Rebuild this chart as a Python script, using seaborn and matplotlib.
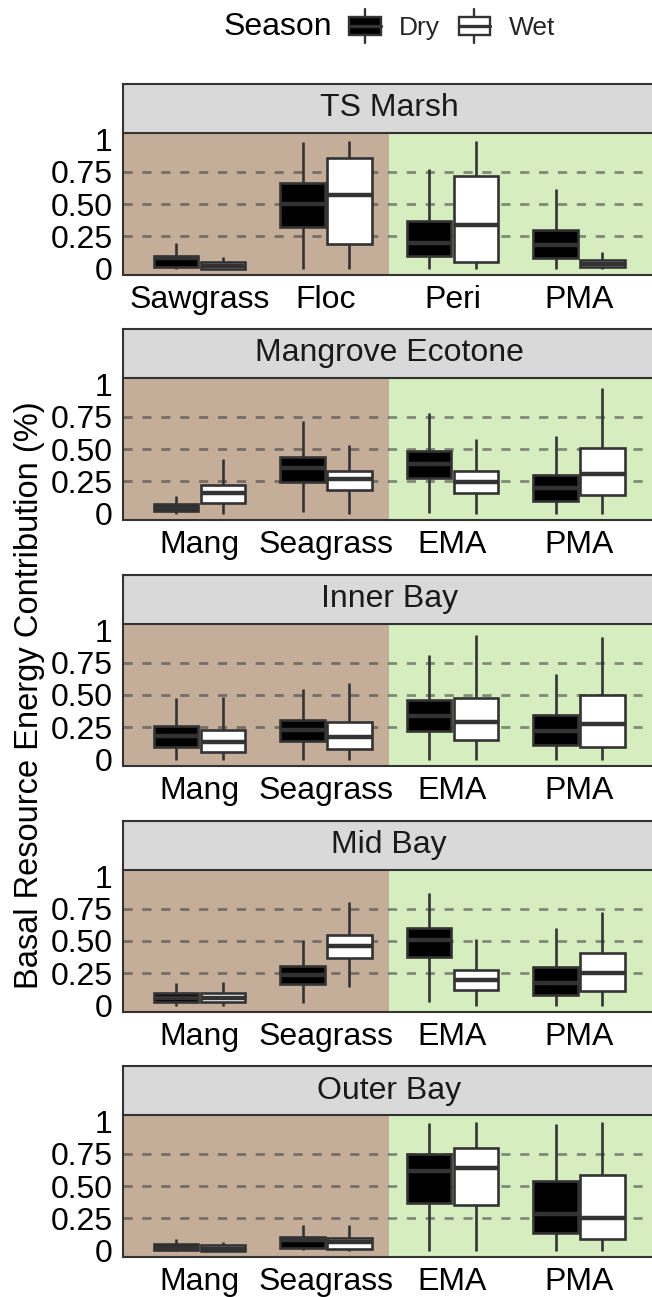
import numpy as np
import pandas as pd
import matplotlib
matplotlib.use("Agg")
import matplotlib.pyplot as plt
from matplotlib.patches import Rectangle
from matplotlib.lines import Line2D
from matplotlib.legend_handler import HandlerBase
import seaborn as sns

sns.set_theme(style="white")
plt.rcParams["font.family"] = ["Liberation Sans", "DejaVu Sans"]

ZONES = ["TS Marsh", "Mangrove Ecotone", "Inner Bay", "Mid Bay", "Outer Bay"]
MARSH_SOURCES = ["Sawgrass", "Floc", "Peri", "PMA"]
BAY_SOURCES = ["Mang", "Seagrass", "EMA", "PMA"]
SEASONS = ["Dry", "Wet"]
Y_TICKS = [0, 0.25, 0.5, 0.75, 1]
Y_TICK_LABELS = ["0", "0.25", "0.50", "0.75", "1"]

# Five-number summaries per source: (whisker low, Q1, median, Q3, whisker high)
ts_marsh_dry = [(0.00, 0.013, 0.078, 0.098, 0.20), (0.00, 0.32, 0.50, 0.66, 0.98),
                (0.00, 0.098, 0.20, 0.368, 0.77), (0.00, 0.078, 0.18, 0.30, 0.62)]
ts_marsh_wet = [(0.00, 0.00, 0.02, 0.05, 0.093), (0.00, 0.187, 0.57, 0.857, 0.99),
                (0.00, 0.054, 0.337, 0.72, 0.99), (0.00, 0.013, 0.036, 0.07, 0.13)]
mangrove_dry = [(0.00, 0.016, 0.044, 0.075, 0.134), (0.01, 0.245, 0.35, 0.44, 0.72),
                (0.005, 0.274, 0.385, 0.488, 0.78), (0.00, 0.096, 0.20, 0.30, 0.60)]
mangrove_wet = [(0.00, 0.083, 0.163, 0.225, 0.426), (0.00, 0.18, 0.264, 0.33, 0.53),
                (0.00, 0.16, 0.245, 0.33, 0.574), (0.00, 0.142, 0.31, 0.504, 0.97)]
inner_bay_dry = [(0.00, 0.10, 0.186, 0.258, 0.48), (0.00, 0.142, 0.227, 0.307, 0.546),
                 (0.00, 0.219, 0.34, 0.459, 0.807), (0.00, 0.113, 0.222, 0.343, 0.665)]
inner_bay_wet = [(0.00, 0.057, 0.139, 0.23, 0.487), (0.00, 0.082, 0.178, 0.289, 0.595),
                 (0.00, 0.155, 0.29, 0.48, 0.964), (0.00, 0.098, 0.276, 0.497, 0.948)]
mid_bay_dry = [(0.00, 0.031, 0.062, 0.096, 0.176), (0.02, 0.166, 0.24, 0.308, 0.508),
               (0.03, 0.376, 0.505, 0.604, 0.868), (0.00, 0.078, 0.176, 0.295, 0.60)]
mid_bay_wet = [(0.00, 0.031, 0.057, 0.10, 0.179), (0.145, 0.365, 0.458, 0.544, 0.80),
               (0.00, 0.117, 0.20, 0.277, 0.513), (0.00, 0.109, 0.254, 0.41, 0.723)]
outer_bay_dry = [(0.00, 0.005, 0.02, 0.05, 0.088), (0.008, 0.02, 0.08, 0.103, 0.196),
                 (0.00, 0.371, 0.613, 0.75, 0.985), (0.00, 0.137, 0.284, 0.539, 0.98)]
outer_bay_wet = [(0.00, 0.00, 0.015, 0.04, 0.07), (0.00, 0.01, 0.07, 0.095, 0.196),
                 (0.00, 0.356, 0.64, 0.794, 0.995), (0.00, 0.093, 0.255, 0.585, 0.995)]

zone_sources = [MARSH_SOURCES, BAY_SOURCES, BAY_SOURCES, BAY_SOURCES, BAY_SOURCES]
zone_summaries = [
    (ts_marsh_dry, ts_marsh_wet),
    (mangrove_dry, mangrove_wet),
    (inner_bay_dry, inner_bay_wet),
    (mid_bay_dry, mid_bay_wet),
    (outer_bay_dry, outer_bay_wet),
]

rows = []
for zone, sources, (dry, wet) in zip(ZONES, zone_sources, zone_summaries):
    for season, summaries in zip(SEASONS, (dry, wet)):
        for source, summary in zip(sources, summaries):
            for v in summary:
                rows.append({"Zone": zone, "Source": source, "Season": season, "Value": v})
df = pd.DataFrame(rows)

EDGE = "#333333"
BROWN = "#C4AD99"
GREEN = "#D5EDBF"
STRIP = "#D9D9D9"
FS = 23

W, H = 652, 1297
fig = plt.figure(figsize=(W / 100, H / 100), dpi=100)

left_px, right_px = 123.5, 655.0
panel_tops = [133, 378, 624, 870, 1115]
panel_h = 142
strip_h = 49

for zone, sources, top in zip(ZONES, zone_sources, panel_tops):
    ax = fig.add_axes([left_px / W, 1 - (top + panel_h) / H,
                       (right_px - left_px) / W, panel_h / H])
    ax.set_facecolor("none")
    ax.axvspan(-0.6, 1.5, color=BROWN, zorder=0, lw=0)
    ax.axvspan(1.5, 3.6, color=GREEN, zorder=0, lw=0)
    for yv in (0.25, 0.5, 0.75):
        ax.axhline(yv, color="#3a3a3a", alpha=0.55, lw=2.0,
                   dashes=(3.3, 3.5), zorder=1)

    sub = df[df["Zone"] == zone]
    sns.boxplot(data=sub, x="Source", y="Value", hue="Season",
                order=sources, hue_order=SEASONS,
                palette={"Dry": "black", "Wet": "white"}, saturation=1,
                whis=(0, 100), showcaps=False, width=0.74, gap=0.05,
                linecolor=EDGE, linewidth=1.9,
                medianprops=dict(color=EDGE, linewidth=3.2),
                legend=False, ax=ax, zorder=2)

    ax.set_xlim(-0.6, 3.6)
    ax.set_ylim(-0.05, 1.05)
    ax.set_yticks(Y_TICKS)
    ax.set_yticklabels(Y_TICK_LABELS)
    ax.set_xlabel("")
    ax.set_ylabel("")
    ax.grid(False)
    for side in ("top", "right"):
        ax.spines[side].set_visible(False)
    for side in ("left", "bottom"):
        ax.spines[side].set_color(EDGE)
        ax.spines[side].set_linewidth(1.5)
    ax.tick_params(axis="both", length=5, width=1.7, color=EDGE,
                   labelsize=FS, labelcolor="black", pad=2)
    ax.tick_params(axis="y", pad=3)

    # facet strip
    sax = fig.add_axes([left_px / W, 1 - top / H, (right_px - left_px) / W, strip_h / H])
    sax.set_facecolor(STRIP)
    sax.set_xticks([])
    sax.set_yticks([])
    for sp in sax.spines.values():
        sp.set_color(EDGE)
        sp.set_linewidth(1.5)
    sax.text(0.5, 0.5, zone, ha="center", va="center", fontsize=FS,
             color="#1A1A1A", transform=sax.transAxes)

fig.text(30 / W, 1 - 695 / H, "Basal Resource Energy Contribution (%)",
         rotation=90, ha="center", va="center", fontsize=23.5, color="black")


class BoxKey(HandlerBase):
    def create_artists(self, legend, orig_handle, xdescent, ydescent,
                       width, height, fontsize, trans):
        x0, y0 = -xdescent, -ydescent
        bh = height * 0.52
        by = y0 + (height - bh) / 2
        cx = x0 + width / 2
        rect = Rectangle((x0, by), width, bh, facecolor=orig_handle.get_facecolor(),
                         edgecolor=EDGE, lw=1.7, transform=trans)
        med = Line2D([x0, x0 + width], [y0 + height / 2] * 2, color=EDGE,
                     lw=2.4, transform=trans)
        w1 = Line2D([cx, cx], [y0, by], color=EDGE, lw=1.7, transform=trans)
        w2 = Line2D([cx, cx], [by + bh, y0 + height], color=EDGE, lw=1.7, transform=trans)
        return [rect, med, w1, w2]


handles = [Rectangle((0, 0), 1, 1, facecolor="black"),
           Rectangle((0, 0), 1, 1, facecolor="white")]
fig.text(224 / W, 1 - 27 / H, "Season", ha="left", va="center", fontsize=FS, color="black")
fig.legend(handles, SEASONS, handler_map={Rectangle: BoxKey()},
           loc="center left", bbox_to_anchor=(349 / W, 1 - 26 / H),
           frameon=False, ncol=2, fontsize=19, handlelength=1.2,
           handleheight=1.6, handletextpad=0.7, columnspacing=0.7,
           borderpad=0, borderaxespad=0)

fig.savefig("out.png", dpi=100)
